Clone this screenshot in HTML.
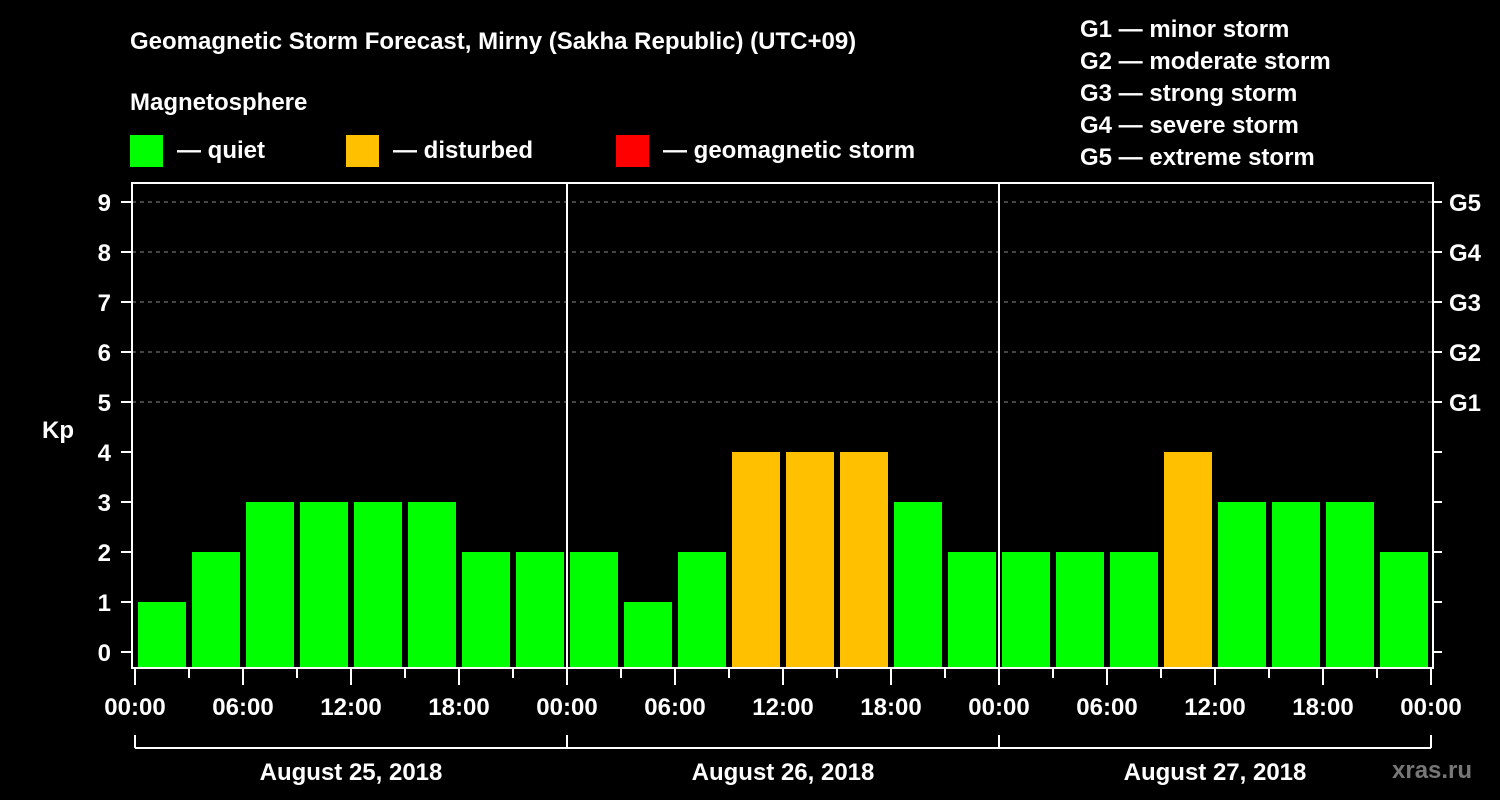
<!DOCTYPE html>
<html><head><meta charset="utf-8"><style>
html,body{margin:0;padding:0;background:#000;width:1500px;height:800px;overflow:hidden}
svg text{font-family:"Liberation Sans","Arial",sans-serif !important;font-weight:bold;fill:#fff}
</style></head><body>
<svg id="chart" width="1500" height="800" viewBox="0 0 1500 800" xmlns="http://www.w3.org/2000/svg" font-family="Liberation Sans, Arial, sans-serif">
<rect width="1500" height="800" fill="#000"/>
<text x="130" y="49" font-size="24">Geomagnetic Storm Forecast, Mirny (Sakha Republic) (UTC+09)</text>
<text x="130" y="110" font-size="24">Magnetosphere</text>
<g><rect x="130" y="135" width="33" height="32" fill="#00ff00"/><text x="177" y="158" font-size="24">— quiet</text></g>
<g><rect x="346" y="135" width="33" height="32" fill="#ffc000"/><text x="393" y="158" font-size="24">— disturbed</text></g>
<g><rect x="616" y="135" width="33" height="32" fill="#ff0000"/><text x="663" y="158" font-size="24">— geomagnetic storm</text></g>
<g font-size="24">
<text x="1080" y="37">G1 — minor storm</text>
<text x="1080" y="69">G2 — moderate storm</text>
<text x="1080" y="101">G3 — strong storm</text>
<text x="1080" y="133">G4 — severe storm</text>
<text x="1080" y="165">G5 — extreme storm</text>
</g>
<g id="grid"></g><g id="bars"></g><g id="axes"></g>
<text x="42" y="438" font-size="24">Kp</text>
<text x="1392" y="778" font-size="24" style="fill:#777">xras.ru</text>
</svg>
<script>
const days = ["August 25, 2018","August 26, 2018","August 27, 2018"];
const kpValues = [1,2,3,3,3,3,2,2, 2,1,2,4,4,4,3,2, 2,2,2,4,3,3,3,2];
const yTicks = [0,1,2,3,4,5,6,7,8,9];
const gLabels = ["G1","G2","G3","G4","G5"];
const xTickLabels = ["00:00","06:00","12:00","18:00"];
(function(){
const NS="http://www.w3.org/2000/svg";
const x0=135, hourW=18;
const xH = h => x0 + h*hourW;
const yK = k => 652 - k*50;
const pTop=183, pBottom=668, pLeft=132, pRight=1433;
function mk(tag, attrs, parent){const e=document.createElementNS(NS,tag);for(const k in attrs)e.setAttribute(k,attrs[k]);parent.appendChild(e);return e;}
const grid=document.getElementById('grid'), bars=document.getElementById('bars'), axes=document.getElementById('axes');
for(let k=5;k<=9;k++){
  const l=mk('line',{x1:pLeft,x2:pRight,y1:yK(k),y2:yK(k),stroke:'#888','stroke-dasharray':'4,4','stroke-width':1},grid);
  
  
}
kpValues.forEach((v,i)=>{
  const xs=xH(i*3)+3, w=xH(i*3+3)-3-xs;
  const c = v>=5?'#ff0000':(v>=4?'#ffc000':'#00ff00');
  const r=mk('rect',{x:xs,y:yK(v),width:w,height:pBottom-1-yK(v),fill:c},bars);
  
  
});
const box=mk('rect',{x:pLeft,y:pTop,width:pRight-pLeft,height:pBottom-pTop,fill:'none',stroke:'#fff','stroke-width':2},axes);


for(let d=1;d<days.length;d++){
  const l=mk('line',{x1:xH(d*24),x2:xH(d*24),y1:pTop,y2:pBottom,stroke:'#fff','stroke-width':2},axes);
  
  
}
yTicks.forEach(k=>{
  mk('line',{x1:121,x2:pLeft,y1:yK(k),y2:yK(k),stroke:'#fff','stroke-width':2},axes);
  mk('line',{x1:pRight,x2:1442,y1:yK(k),y2:yK(k),stroke:'#fff','stroke-width':2},axes);
  const t=mk('text',{x:111,y:yK(k)+9,'font-size':24,'text-anchor':'end'},axes);
  t.textContent=k;
  
  
});
gLabels.forEach((g,i)=>{
  const t=mk('text',{x:1449,y:yK(5+i)+9,'font-size':24},axes);
  t.textContent=g;
  
  
});
for(let h=0;h<=72;h+=3){
  const major=h%6===0;
  mk('line',{x1:xH(h),x2:xH(h),y1:pBottom,y2:major?685:678,stroke:'#fff','stroke-width':2},axes);
  if(major){
    const t=mk('text',{x:xH(h),y:715,'font-size':24,'text-anchor':'middle'},axes);
    t.textContent=xTickLabels[(h%24)/6];
    
    
  }
}
mk('line',{x1:xH(0),x2:xH(72),y1:748,y2:748,stroke:'#fff','stroke-width':2},axes);
for(let d=0;d<=days.length;d++) mk('line',{x1:xH(d*24),x2:xH(d*24),y1:735,y2:748,stroke:'#fff','stroke-width':2},axes);
days.forEach((d,i)=>{
  const t=mk('text',{x:xH(i*24+12),y:780,'font-size':24,'text-anchor':'middle'},axes);
  t.textContent=d;
  
  
});
})();
</script>
</body></html>
